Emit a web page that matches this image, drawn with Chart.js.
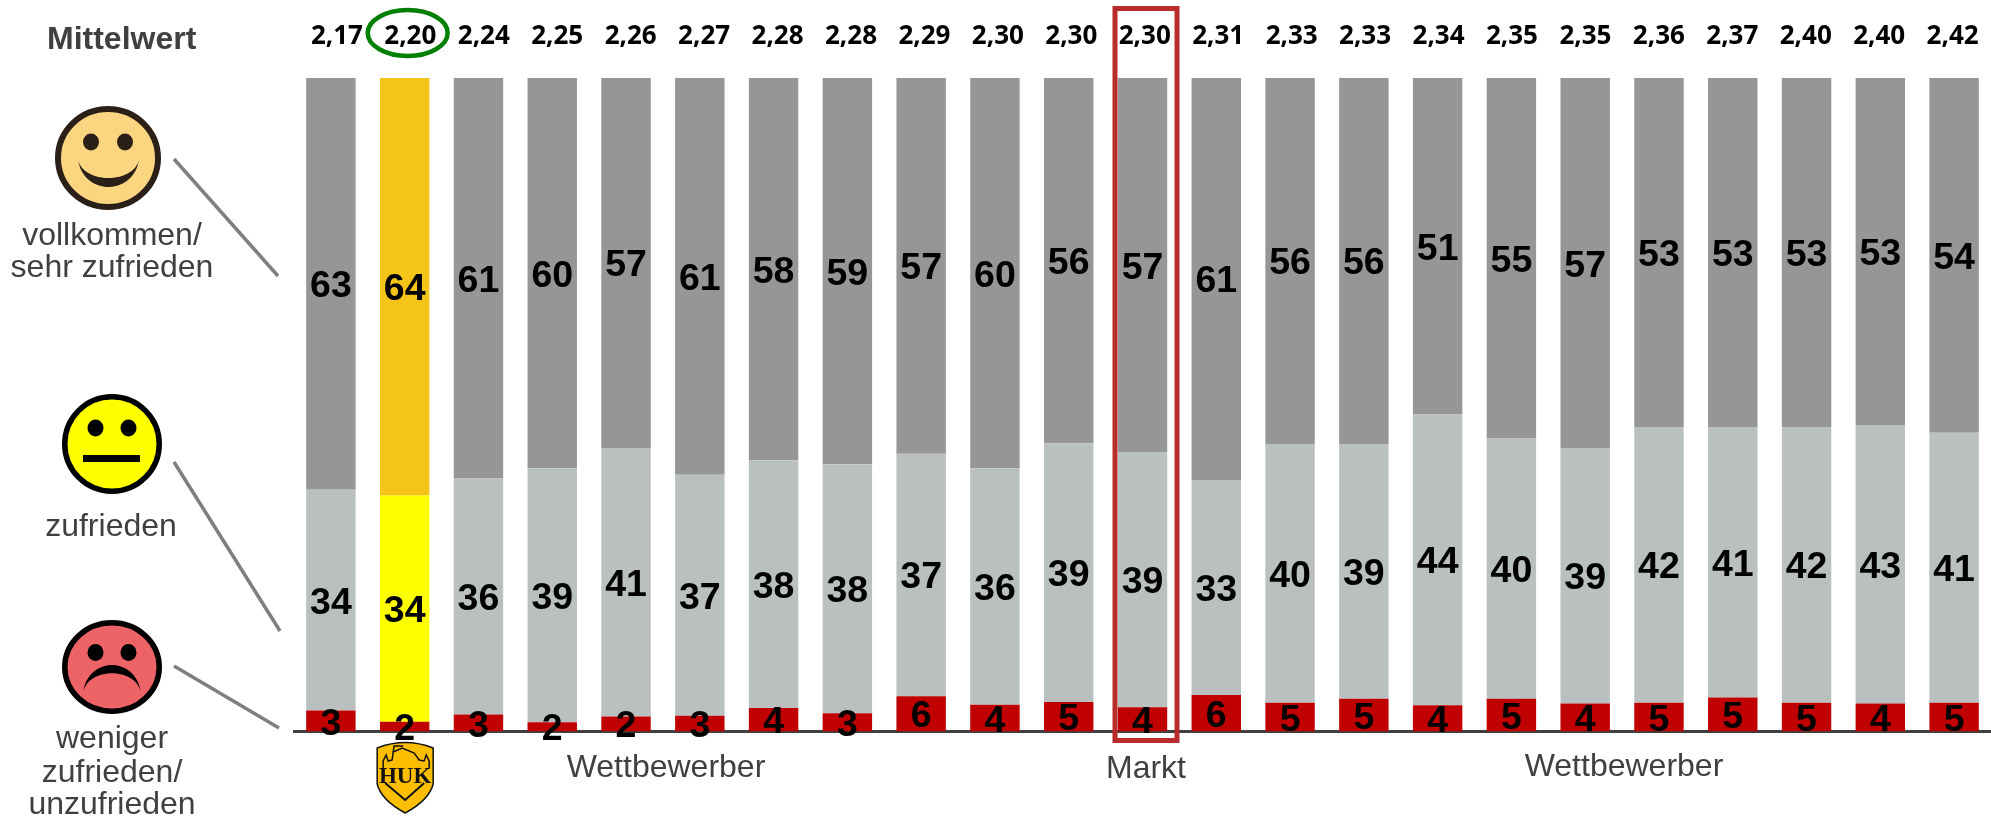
<!DOCTYPE html>
<html>
<head>
<meta charset="utf-8">
<title>Mittelwert</title>
<script src="https://cdn.jsdelivr.net/npm/chart.js@4"></script>
<style>
  html, body { margin: 0; padding: 0; background: #fff; overflow: hidden; }
  #myChart { display: block; }
</style>
</head>
<body>
<canvas id="myChart" width="1991" height="817"></canvas>
<script>
const categories = ['1', 'HUK', '3', '4', '5', '6', '7', '8', '9', '10', '11', 'Markt', '13', '14', '15', '16', '17', '18', '19', '20', '21', '22', '23'];
const means = ['2,17', '2,20', '2,24', '2,25', '2,26', '2,27', '2,28', '2,28', '2,29', '2,30', '2,30', '2,30', '2,31', '2,33', '2,33', '2,34', '2,35', '2,35', '2,36', '2,37', '2,40', '2,40', '2,42'];

// bar heights
const lowValues = [3.2, 1.5, 2.6, 1.4, 2.3, 2.4, 3.6, 2.8, 5.4, 4.1, 4.5, 3.7, 5.6, 4.4, 5.0, 4.0, 5.0, 4.3, 4.4, 5.2, 4.4, 4.3, 4.4];
const midValues = [33.8, 34.6, 36.1, 38.9, 41.1, 36.9, 37.9, 38.1, 37.1, 36.2, 39.6, 39.0, 32.9, 39.6, 39.0, 44.5, 39.9, 39.0, 42.2, 41.4, 42.2, 42.6, 41.3];
const topValues = [63.0, 63.9, 61.3, 59.7, 56.6, 60.7, 58.5, 59.1, 57.5, 59.7, 55.9, 57.3, 61.5, 56.0, 56.0, 51.5, 55.1, 56.7, 53.4, 53.4, 53.4, 53.1, 54.3];

// numbers printed on the bars
const lowLabels = [3, 2, 3, 2, 2, 3, 4, 3, 6, 4, 5, 4, 6, 5, 5, 4, 5, 4, 5, 5, 5, 4, 5];
const midLabels = [34, 34, 36, 39, 41, 37, 38, 38, 37, 36, 39, 39, 33, 40, 39, 44, 40, 39, 42, 41, 42, 43, 41];
const topLabels = [63, 64, 61, 60, 57, 61, 58, 59, 57, 60, 56, 57, 61, 56, 56, 51, 55, 57, 53, 53, 53, 53, 54];

const HUK = 1;
const MARKT = 11;
const TEXT = '#404040';

function text(ctx, str, x, y, font, color, align) {
  ctx.font = font;
  ctx.fillStyle = color;
  ctx.textAlign = align || 'center';
  ctx.textBaseline = 'alphabetic';
  ctx.fillText(str, x, y);
}

function face(ctx, x, y, rx, ry, fill, border, lw, eyeDx, eyeDy, eyeR) {
  ctx.beginPath();
  ctx.ellipse(x, y, rx - lw / 2, ry - lw / 2, 0, 0, Math.PI * 2);
  ctx.fillStyle = fill;
  ctx.fill();
  ctx.lineWidth = lw;
  ctx.strokeStyle = border;
  ctx.stroke();
  ctx.fillStyle = border;
  [-1, 1].forEach(s => {
    ctx.beginPath();
    ctx.ellipse(x + s * eyeDx, y + eyeDy, eyeR, eyeR + 0.5, 0, 0, Math.PI * 2);
    ctx.fill();
  });
}

// mouth shape: two curves between the same corners
function crescent(ctx, x1, x2, y, outerCtrl, innerCtrl, color) {
  const a = x1 + 6, b = x2 - 6;
  ctx.beginPath();
  ctx.moveTo(x1, y);
  ctx.bezierCurveTo(a, outerCtrl, b, outerCtrl, x2, y);
  ctx.bezierCurveTo(b, innerCtrl, a, innerCtrl, x1, y);
  ctx.closePath();
  ctx.fillStyle = color;
  ctx.fill();
}

function drawFaces(ctx) {
  face(ctx, 108, 158, 53, 52, '#fcd581', '#2a2018', 6, 17, -16, 8);
  crescent(ctx, 78, 139, 160, 196, 184, '#2a2018');

  face(ctx, 112, 444, 50, 50, '#ffff00', '#000', 5.5, 16.5, -16, 8);
  ctx.fillStyle = '#000';
  ctx.fillRect(83, 455, 57, 7);

  face(ctx, 112, 667, 50, 47, '#ee6366', '#000', 5.5, 16.5, -14.5, 8);
  crescent(ctx, 83, 141, 692, 656, 667, '#000');

  ctx.strokeStyle = '#7f7f7f';
  ctx.lineWidth = 3.5;
  [[174, 159, 278, 276], [174, 462, 280, 631], [174, 666, 279, 728]].forEach(l => {
    ctx.beginPath();
    ctx.moveTo(l[0], l[1]);
    ctx.lineTo(l[2], l[3]);
    ctx.stroke();
  });
}

function drawLogo(ctx, cx) {
  ctx.save();
  ctx.translate(cx, 0);
  ctx.beginPath();
  ctx.moveTo(-28, 748);
  ctx.quadraticCurveTo(0, 737, 28, 748);
  ctx.lineTo(28, 784);
  ctx.quadraticCurveTo(24, 800, 0, 813);
  ctx.quadraticCurveTo(-24, 800, -28, 784);
  ctx.closePath();
  ctx.fillStyle = '#fbbe00';
  ctx.fill();
  ctx.strokeStyle = '#111';
  ctx.lineWidth = 1.5;
  ctx.stroke();

  ctx.beginPath();
  ctx.moveTo(-20, 783);
  ctx.lineTo(0, 800);
  ctx.lineTo(19, 783);
  ctx.lineWidth = 2;
  ctx.stroke();

  // castle above the letters
  ctx.beginPath();
  ctx.moveTo(-22, 768);
  ctx.lineTo(-22, 761);
  ctx.lineTo(-19, 755);
  ctx.lineTo(-17, 761);
  ctx.lineTo(-13, 760);
  ctx.lineTo(-12, 752);
  ctx.lineTo(-3, 748);
  ctx.lineTo(9, 753);
  ctx.lineTo(14, 760);
  ctx.lineTo(19, 761);
  ctx.lineTo(21, 755);
  ctx.lineTo(24, 761);
  ctx.lineTo(24, 768);
  ctx.lineWidth = 1.5;
  ctx.stroke();
  ctx.beginPath();
  ctx.moveTo(-12, 752);
  ctx.lineTo(-11, 746);
  ctx.lineTo(-2, 746);
  ctx.stroke();

  text(ctx, 'HUK', 0, 783, 'bold 23px "Liberation Serif"', '#111');
  ctx.restore();
}

const annotations = {
  id: 'annotations',
  afterDraw(chart) {
    const ctx = chart.ctx;
    const x = chart.scales.x;
    ctx.save();

    // numbers inside the bar segments
    const labelSets = [lowLabels, midLabels, topLabels];
    labelSets.forEach((labels, d) => {
      chart.getDatasetMeta(d).data.forEach((bar, i) => {
        const y = (bar.y + bar.base) / 2;
        text(ctx, String(labels[i]), bar.x, y + 13.5, 'bold 37.5px "Liberation Sans"', '#000');
      });
    });

    // mean row: spaced a little tighter than the bars
    means.forEach((m, i) => {
      text(ctx, m, x.getPixelForValue(i) + 6 - i * 0.34, 44, 'bold 26px "Open Sans"', '#000');
    });
    text(ctx, 'Mittelwert', 47, 49, 'bold 32px "Liberation Sans"', TEXT, 'left');

    // best value ring and market box
    ctx.beginPath();
    ctx.ellipse(x.getPixelForValue(HUK) + 3, 33, 40, 23, 0, 0, Math.PI * 2);
    ctx.strokeStyle = '#008000';
    ctx.lineWidth = 4.5;
    ctx.stroke();

    const mx = x.getPixelForValue(MARKT) + 3.5;
    ctx.strokeStyle = '#b92c2c';
    ctx.lineWidth = 5;
    ctx.strokeRect(mx - 31, 8.5, 62, 732);

    const font = '32px "Liberation Sans"';
    text(ctx, 'vollkommen/', 112, 245, font, TEXT);
    text(ctx, 'sehr zufrieden', 112, 277, font, TEXT);
    text(ctx, 'zufrieden', 111, 536, font, TEXT);
    text(ctx, 'weniger', 112, 748, font, TEXT);
    text(ctx, 'zufrieden/', 112, 782, font, TEXT);
    text(ctx, 'unzufrieden', 112, 814, font, TEXT);
    text(ctx, 'Wettbewerber', 666, 777, font, TEXT);
    text(ctx, 'Markt', 1146, 778, font, TEXT);
    text(ctx, 'Wettbewerber', 1624, 776, font, TEXT);

    drawFaces(ctx);
    drawLogo(ctx, x.getPixelForValue(HUK) + 0.5);
    ctx.restore();
  }
};

const ctx = document.getElementById('myChart').getContext('2d');

const myChart = new Chart(ctx, {
  type: 'bar',
  data: {
    labels: categories,
    datasets: [
      { label: 'weniger zufrieden/unzufrieden', data: lowValues, backgroundColor: '#c00000' },
      { label: 'zufrieden', data: midValues, backgroundColor: c => c.dataIndex === HUK ? '#ffff00' : '#bac0c0' },
      { label: 'vollkommen/sehr zufrieden', data: topValues, backgroundColor: c => c.dataIndex === HUK ? '#f4c518' : '#969696' }
    ]
  },
  options: {
    responsive: false,
    animation: false,
    devicePixelRatio: 1,
    barPercentage: 0.67,
    categoryPercentage: 1,
    layout: { padding: { left: 294, right: 0, top: 78, bottom: 77.5 } },
    scales: {
      x: {
        stacked: true,
        grid: { display: false },
        border: { color: TEXT, width: 3 },
        ticks: { display: false }
      },
      y: {
        stacked: true,
        display: false,
        min: 0,
        max: 100
      }
    },
    plugins: {
      legend: { display: false },
      tooltip: { enabled: false }
    }
  },
  plugins: [annotations]
});
</script>
</body>
</html>
